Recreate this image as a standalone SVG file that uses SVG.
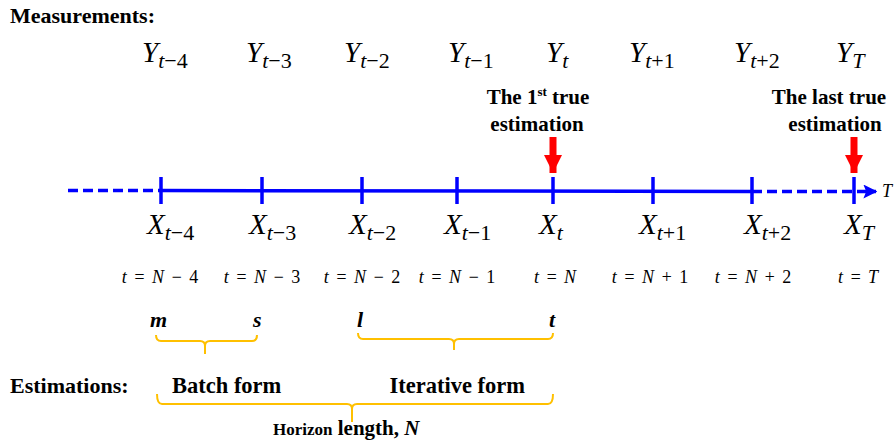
<svg xmlns="http://www.w3.org/2000/svg" width="895" height="443" viewBox="0 0 895 443">
<defs>
<style>
.hd{font-family:"Liberation Serif",serif;font-weight:bold;font-size:22px;fill:#000}
.lb{font-family:"Liberation Serif",serif;font-weight:bold;font-size:21px;fill:#000}
.fm{font-size:22.5px}
.mv{font-family:"Liberation Serif",serif;font-style:italic;font-size:29px;fill:#000}
.sb{font-size:22px}
.up{font-style:normal}
.eq{font-family:"Liberation Serif",serif;font-style:italic;font-size:18px;fill:#000;word-spacing:2px}
.bi{font-family:"Liberation Serif",serif;font-style:italic;font-weight:bold;font-size:22px;fill:#000}
.axis{stroke:#0000ff;stroke-width:3.5;fill:none}
.dash{stroke-dasharray:10 5}
.tick{stroke:#0000ff;stroke-width:3.5}
.brace{stroke:#ffc000;stroke-width:2;fill:none}
</style>
<marker id="ah" viewBox="0 0 10 10" refX="9" refY="5" markerWidth="4" markerHeight="4" orient="auto" markerUnits="strokeWidth">
<path d="M0,0 L10,5 L0,10 L2,5 Z" fill="#0000ff"/>
</marker>
<marker id="red" viewBox="0 0 10 10" refX="10" refY="5" markerWidth="2.6" markerHeight="2.6" orient="auto" markerUnits="strokeWidth">
<path d="M0,0 L10,5 L0,10 Z" fill="#ff0000"/>
</marker>
</defs>

<text class="hd" x="10" y="23">Measurements:</text>
<text class="hd" x="10" y="393">Estimations:</text>

<g id="connectors">
<line class="axis dash" x1="68" y1="190.5" x2="160" y2="190.5"/>
<line class="axis" x1="160" y1="190.5" x2="752" y2="191.5"/>
<line class="axis dash" x1="752" y1="191.5" x2="876" y2="191.5" marker-end="url(#ah)"/>
<line class="tick" x1="161" y1="177" x2="161" y2="204"/>
<line class="tick" x1="262" y1="177" x2="262" y2="204"/>
<line class="tick" x1="362" y1="177" x2="362" y2="204"/>
<line class="tick" x1="457" y1="177" x2="457" y2="204"/>
<line class="tick" x1="553" y1="177" x2="553" y2="204"/>
<line class="tick" x1="653" y1="177" x2="653" y2="204"/>
<line class="tick" x1="752" y1="177" x2="752" y2="204"/>
<line class="tick" x1="854" y1="177" x2="854" y2="204"/>
<line x1="553" y1="137" x2="553" y2="173" stroke="#ff0000" stroke-width="7" marker-end="url(#red)"/>
<line x1="854" y1="137" x2="854" y2="173" stroke="#ff0000" stroke-width="7" marker-end="url(#red)"/>
<path class="brace" d="M156,335 Q156,341 161,341 L200,341 Q205,341 205,346 L205,354 M205,346 Q205,341 210,341 L252,341 Q257,341 257,335"/>
<path class="brace" d="M358,333 Q358,339 363,339 L449,339 Q454,339 454,344 L454,350 M454,344 Q454,339 459,339 L548,339 Q553,339 553,333"/>
<path class="brace" d="M157,394 Q157,404 162,404 L347,404 Q352,404 352,409 L352,422 M352,409 Q352,404 357,404 L548,404 Q553,404 553,394"/>
</g>

<text class="eq" x="882" y="197" font-size="15">T</text>

<g id="Y">
<text class="mv" x="142" y="62">Y<tspan class="sb" dy="6">t<tspan class="up">−4</tspan></tspan></text>
<text class="mv" x="246" y="62">Y<tspan class="sb" dy="6">t<tspan class="up">−3</tspan></tspan></text>
<text class="mv" x="344" y="62">Y<tspan class="sb" dy="6">t<tspan class="up">−2</tspan></tspan></text>
<text class="mv" x="448" y="62">Y<tspan class="sb" dy="6">t<tspan class="up">−1</tspan></tspan></text>
<text class="mv" x="546" y="62">Y<tspan class="sb" dy="6">t</tspan></text>
<text class="mv" x="629" y="62">Y<tspan class="sb" dy="6">t<tspan class="up">+1</tspan></tspan></text>
<text class="mv" x="734" y="62">Y<tspan class="sb" dy="6">t<tspan class="up">+2</tspan></tspan></text>
<text class="mv" x="836" y="62">Y<tspan class="sb" dy="6">T</tspan></text>
</g>

<g id="X">
<text class="mv" x="147" y="234">X<tspan class="sb" dy="6">t<tspan class="up">−4</tspan></tspan></text>
<text class="mv" x="249" y="234">X<tspan class="sb" dy="6">t<tspan class="up">−3</tspan></tspan></text>
<text class="mv" x="349" y="234">X<tspan class="sb" dy="6">t<tspan class="up">−2</tspan></tspan></text>
<text class="mv" x="444" y="234">X<tspan class="sb" dy="6">t<tspan class="up">−1</tspan></tspan></text>
<text class="mv" x="539" y="234">X<tspan class="sb" dy="6">t</tspan></text>
<text class="mv" x="639" y="234">X<tspan class="sb" dy="6">t<tspan class="up">+1</tspan></tspan></text>
<text class="mv" x="744" y="234">X<tspan class="sb" dy="6">t<tspan class="up">+2</tspan></tspan></text>
<text class="mv" x="844" y="234">X<tspan class="sb" dy="6">T</tspan></text>
</g>

<g id="times">
<text class="eq" x="160" y="283" text-anchor="middle">t = N − <tspan class="up">4</tspan></text>
<text class="eq" x="262" y="283" text-anchor="middle">t = N − <tspan class="up">3</tspan></text>
<text class="eq" x="362" y="283" text-anchor="middle">t = N − <tspan class="up">2</tspan></text>
<text class="eq" x="457" y="283" text-anchor="middle">t = N − <tspan class="up">1</tspan></text>
<text class="eq" x="555" y="283" text-anchor="middle">t = N</text>
<text class="eq" x="650" y="283" text-anchor="middle">t = N + <tspan class="up">1</tspan></text>
<text class="eq" x="753" y="283" text-anchor="middle">t = N + <tspan class="up">2</tspan></text>
<text class="eq" x="858" y="283" text-anchor="middle">t = T</text>
</g>

<g id="first-true">
<text class="lb" x="538" y="104" text-anchor="middle">The 1<tspan font-size="13" dy="-8">st</tspan><tspan dy="8"> true</tspan></text>
<text class="lb" x="537" y="131" text-anchor="middle">estimation</text>
</g>
<g id="last-true">
<text class="lb" x="829" y="104" text-anchor="middle">The last true</text>
<text class="lb" x="835" y="131" text-anchor="middle">estimation</text>
</g>

<g id="indices">
<text class="bi" x="150" y="327">m</text>
<text class="bi" x="253" y="327">s</text>
<text class="bi" x="357" y="327">l</text>
<text class="bi" x="549" y="327">t</text>
</g>

<g id="batch"><text class="lb fm" x="172" y="393">Batch form</text></g>
<g id="iterative"><text class="lb fm" x="525" y="393" text-anchor="end">Iterative form</text></g>
<g id="horizon"><text class="lb" x="273" y="435"><tspan font-size="17">Horizon</tspan> length,<tspan font-style="italic"> N</tspan></text></g>
</svg>
